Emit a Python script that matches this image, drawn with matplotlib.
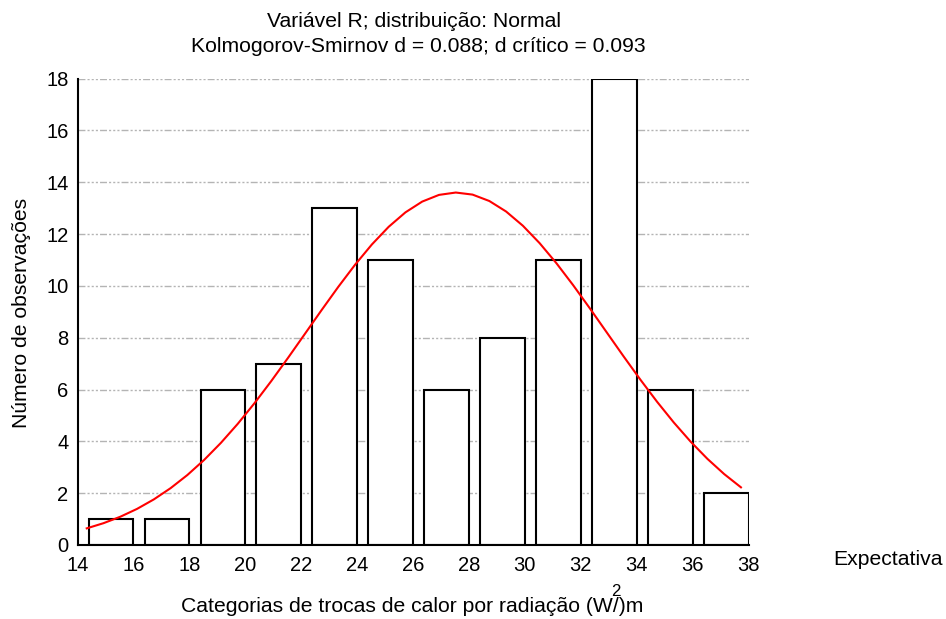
import numpy as np
import matplotlib
matplotlib.use("Agg")
import matplotlib.pyplot as plt

plt.rcParams["font.family"] = ["Liberation Sans", "DejaVu Sans"]

# Histogram classes (left edges, class width 2) and observed counts
bin_left = [14.4, 16.4, 18.4, 20.4, 22.4, 24.4, 26.4, 28.4, 30.4, 32.4, 34.4, 36.4]
counts = [1, 1, 6, 7, 13, 11, 6, 8, 11, 18, 6, 2]
bar_width = 1.6

# Fitted normal curve (expected counts per class)
fit_mean = 27.55
fit_sd = 5.35
fit_peak = 13.6
curve_start, curve_end, curve_n = 14.33, 37.73, 40

x_ticks = [14, 16, 18, 20, 22, 24, 26, 28, 30, 32, 34, 36, 38]
y_ticks = [0, 2, 4, 6, 8, 10, 12, 14, 16, 18]

W, H = 946, 619
fig = plt.figure(figsize=(W / 100, H / 100), dpi=100)
ax = fig.add_axes([77.5 / W, 1 - 545 / H, (748.5 - 77.5) / W, (545 - 78.5) / H])

ax.bar(bin_left, counts, width=bar_width, align="edge", facecolor="white",
       edgecolor="black", linewidth=1.5, zorder=2)

cx = np.linspace(curve_start, curve_end, curve_n)
cy = fit_peak * np.exp(-0.5 * ((cx - fit_mean) / fit_sd) ** 2)
ax.plot(cx, cy, color="#ff0000", linewidth=1.5, zorder=3)

ax.set_xlim(14, 38)
ax.set_ylim(0, 18)
ax.set_xticks(x_ticks)
ax.set_yticks(y_ticks)
ax.tick_params(axis="both", length=0, labelsize=14.5)
ax.tick_params(axis="x", pad=8.0)
ax.tick_params(axis="y", pad=6.5)

ax.yaxis.grid(True, color="#b4b4b4", linewidth=1.0,
              linestyle=(0, (5, 1.5, 1.5, 1.5, 1.5, 1.5, 1.5, 1.5)), zorder=1)
ax.set_axisbelow(True)

for side in ("top", "right"):
    ax.spines[side].set_visible(False)
for side in ("left", "bottom"):
    ax.spines[side].set_linewidth(1.5)
    ax.spines[side].set_zorder(4)

fs = 15.2
fig.text(414 / W, 1 - 27 / H, "Variável R; distribuição: Normal",
         ha="center", va="baseline", fontsize=fs)
fig.text(418 / W, 1 - 52 / H, "Kolmogorov-Smirnov d = 0.088; d crítico = 0.093",
         ha="center", va="baseline", fontsize=fs)

fig.text(22 / W, 1 - 313 / H, "Número de observações", rotation=90,
         ha="center", va="center", fontsize=fs)

fig.text(412 / W, 1 - 612 / H, "Categorias de trocas de calor por radiação (W/)m",
         ha="center", va="baseline", fontsize=fs)
fig.text(616 / W, 1 - 596 / H, "2", ha="center", va="baseline", fontsize=fs * 0.8)

fig.text(833 / W, 1 - 565 / H, "Expectativa", ha="left", va="baseline", fontsize=fs)

fig.savefig("out.png", dpi=100)
